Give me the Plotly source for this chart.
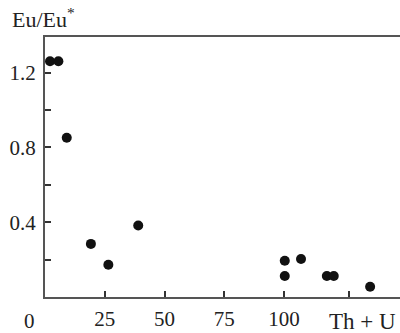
import plotly.graph_objects as go

th_u = [2.1, 5.6, 9.1, 19.2, 26.5, 39.0, 100.3, 100.3, 107.1, 117.9, 120.8, 136.0]
eu_ratio = [1.26, 1.26, 0.851, 0.284, 0.172, 0.382, 0.194, 0.112, 0.203, 0.112, 0.112, 0.055]

x_tick_vals = [25, 50, 75, 100, 127.2]
x_tick_text = ["25", "50", "75", "100", " "]
y_tick_vals = [0.2, 0.4, 0.6, 0.8, 1.0, 1.2]
y_tick_text = [" ", "0.4", " ", "0.8", " ", "1.2"]

FONT = "Liberation Serif, Times New Roman, serif"
AXC = "#555555"
TXT = "#222222"

fig = go.Figure()
fig.add_trace(go.Scatter(
    x=th_u, y=eu_ratio, mode="markers",
    marker=dict(size=10, color="#111111", line=dict(width=0)),
    cliponaxis=False, showlegend=False, hoverinfo="skip",
))

fig.update_layout(
    width=400, height=333,
    margin=dict(l=45, r=0, t=36.5, b=36),
    paper_bgcolor="white", plot_bgcolor="white",
    font=dict(family=FONT, size=21, color=TXT),
    xaxis=dict(
        range=[0, 148.5], showgrid=False, zeroline=False,
        showline=True, linecolor=AXC, linewidth=2, mirror=True,
        ticks="inside", ticklen=6, tickwidth=1.5, tickcolor="#333333",
        tickvals=x_tick_vals, ticktext=x_tick_text, ticklabelstandoff=2,
        tickfont=dict(family=FONT, size=21, color=TXT),
    ),
    yaxis=dict(
        range=[0, 1.39], showgrid=False, zeroline=False,
        showline=True, linecolor=AXC, linewidth=2, mirror=False,
        ticks="inside", ticklen=6, tickwidth=1.5, tickcolor="#333333",
        tickvals=y_tick_vals, ticktext=y_tick_text, ticklabelstandoff=3,
        tickfont=dict(family=FONT, size=21, color=TXT),
    ),
    annotations=[
        dict(text="Eu/Eu<sup>*</sup>", xref="paper", yref="paper",
             x=-45/355, y=1 + 36.5/260.5, xanchor="left", yanchor="top",
             xshift=10, yshift=-1, showarrow=False, font=dict(family=FONT, size=22, color=TXT)),
        dict(text="0", xref="paper", yref="paper", x=0, y=0,
             xanchor="center", yanchor="top", xshift=-16, yshift=-10,
             showarrow=False, font=dict(family=FONT, size=21, color=TXT)),
        dict(text="Th + U", xref="x", yref="paper", x=127.2, y=0,
             xanchor="left", yanchor="top", xshift=-22, yshift=-10,
             showarrow=False, font=dict(family=FONT, size=23, color=TXT)),
    ],
)

fig.write_html(
    "out.html",
    config={"displayModeBar": False},
    post_script="document.body.style.margin='0';document.body.style.padding='0';",
)
